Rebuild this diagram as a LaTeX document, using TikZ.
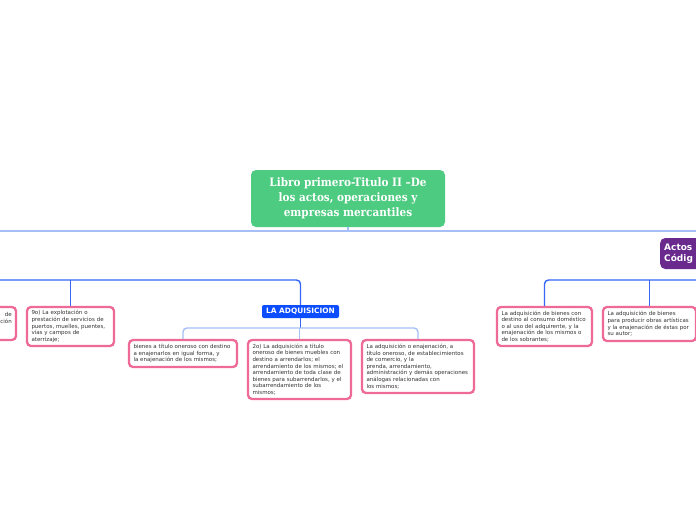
\documentclass[tikz,border=0pt]{standalone}
\usepackage{fontspec}
\setmainfont{DejaVu Sans}
\newfontfamily\rootfont{DejaVu Serif Condensed}
\usetikzlibrary{positioning}
\definecolor{rootgreen}{HTML}{4DCB80}
\definecolor{pinkb}{HTML}{EE6A97}
\definecolor{adqblue}{HTML}{0B4DFF}
\definecolor{purp}{HTML}{6A2A8D}
\definecolor{lineL}{HTML}{A6BFF7}
\definecolor{lineD}{HTML}{3566F5}
\definecolor{txt}{HTML}{333333}
\tikzset{
  leaf/.style={draw=pinkb, line width=2.3pt, rounded corners=4pt, fill=white,
    font=\fontsize{5.5}{6.6}\selectfont, text=txt, align=left, anchor=center,
    inner sep=0pt},
  conL/.style={draw=lineL, line width=1.4pt, rounded corners=4pt},
  conD/.style={draw=lineD, line width=1.4pt, rounded corners=4pt},
}
\begin{document}
\begin{tikzpicture}[x=1pt,y=-1pt]
\useasboundingbox[fill=white] (0,0) rectangle (696,520);
% root
\node[fill=rootgreen, rounded corners=5pt, minimum width=194pt, minimum height=57pt,
  text=white, font=\rootfont\bfseries\fontsize{11.6}{15}\selectfont, align=center, inner sep=0pt]
  (root) at (348,198.5) {Libro primero-Titulo II –De\\los actos, operaciones y\\empresas mercantiles};
\coordinate (mainL) at (-5,231);
\coordinate (mainR) at (701,231);
\draw[conL] (mainL) -- (mainR);
\draw[conL, rounded corners=0pt] (root.south) -- (root.south |- mainL);
% purple node (partly outside)
\node[fill=purp, rounded corners=5pt, minimum width=90pt, minimum height=31pt, anchor=west,
  text=white, font=\bfseries\fontsize{9}{11.5}\selectfont, align=left, inner sep=0pt, text width=82pt]
  (actos) at (660,253.5) {Actos\\Códig};
% LA ADQUISICION
\node[fill=adqblue, rounded corners=2pt, minimum width=77pt, minimum height=13pt,
  text=white, font=\bfseries\fontsize{7.4}{8}\selectfont, inner sep=0pt]
  (adq) at (300.5,311.5) {LA ADQUISICION};
% left partial box
\node[leaf, minimum width=110pt, minimum height=33pt] (part) at (-39,323.5) {};
\node[font=\fontsize{5.5}{6.6}\selectfont, text=txt, anchor=east, inner sep=0pt] (partA) at (12,314) {de};
\node[font=\fontsize{5.5}{6.6}\selectfont, text=txt, anchor=east, inner sep=0pt] (partB) at (12,321) {ción};
% 9o
\node[leaf, minimum width=87pt, minimum height=39pt, text width=78pt] (nine) at (70.5,326.5)
  {9o) La explotación o\\prestación de servicios de\\puertos, muelles, puentes,\\vías y campos de\\aterrizaje;};
% adq children
\node[leaf, minimum width=108pt, minimum height=27pt, text width=99pt] (b1) at (183,353.5)
  {bienes a título oneroso con destino\\a enajenarlos en igual forma, y\\la enajenación de los mismos;};
\node[leaf, minimum width=103pt, minimum height=59pt, text width=94pt] (b2) at (299.5,369.5)
  {2o) La adquisición a título\\oneroso de bienes muebles con\\destino a arrendarlos; el\\arrendamiento de los mismos; el\\arrendamiento de toda clase de\\bienes para subarrendarlos, y el\\subarrendamiento de los\\mismos;};
\node[leaf, minimum width=112pt, minimum height=53pt, text width=103pt] (b3) at (418,366.5)
  {La adquisición o enajenación, a\\título oneroso, de establecimientos\\de comercio, y la\\prenda, arrendamiento,\\administración y demás operaciones\\análogas relacionadas con\\los mismos;};
% right children
\node[leaf, minimum width=95pt, minimum height=39pt, text width=86pt] (bA) at (544.5,326.5)
  {La adquisición de bienes con\\destino al consumo doméstico\\o al uso del adquirente, y la\\enajenación de los mismos o\\de los sobrantes;};
\node[leaf, minimum width=93pt, minimum height=34pt, text width=84pt] (bB) at (649.5,324)
  {La adquisición de bienes\\para producir obras artísticas\\y la enajenación de éstas por\\su autor;};
% left branch connectors
\coordinate (lbL) at (-5,280);
\draw[conD] (lbL) -| (adq.north);
\draw[conD, rounded corners=0pt] (nine.north) -- (nine.north |- lbL);
\draw[conD, rounded corners=0pt] (part.north) -- (part.north |- lbL);
% adq children connectors
\coordinate (j) at (300.5,328);
\draw[conD, rounded corners=0pt] (adq.south) -- (j);
\draw[conL] (b1.north) |- (j) -| (b3.north);
\draw[conL, rounded corners=0pt] (b2.north) -- (b2.north |- j);
% right branch connectors
\coordinate (rbR) at (701,280);
\draw[conD] (bA.north) |- (rbR);
\draw[conD, rounded corners=0pt] (bB.north) -- (bB.north |- rbR);
\end{tikzpicture}
\end{document}
